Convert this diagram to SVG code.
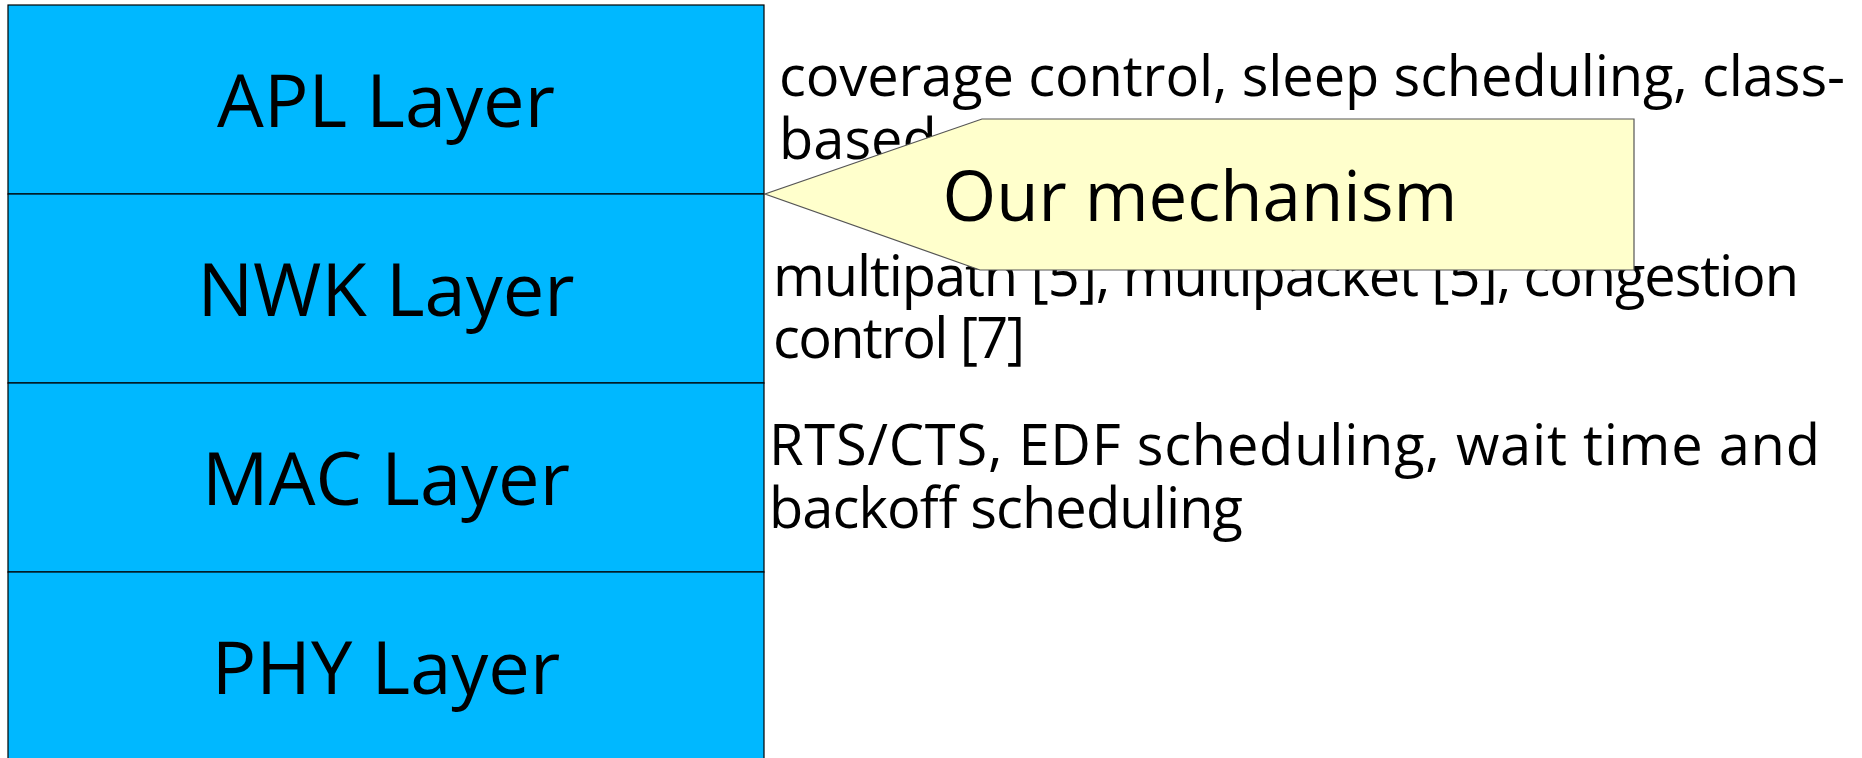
<svg xmlns="http://www.w3.org/2000/svg" width="1862" height="758" viewBox="0 0 1862 758">
  <style>
    .layer { fill: #00b8ff; stroke: #000000; stroke-width: 1.2; }
    .lt { font-family: "Open Sans", "Noto Sans", "DejaVu Sans", sans-serif; font-size: 74px; fill: #000; text-anchor: middle; }
    .desc { font-family: "Open Sans", "Noto Sans", "DejaVu Sans", sans-serif; font-size: 56px; fill: #000; }
    .callout { fill: #ffffcc; stroke: #555555; stroke-width: 1.2; }
    .ct { font-family: "Open Sans", "Noto Sans", "DejaVu Sans", sans-serif; font-size: 69px; fill: #000; text-anchor: middle; }
  </style>
  <rect x="0" y="0" width="1862" height="758" fill="#ffffff"/>
  <g id="apl">
    <rect class="layer" x="8" y="5" width="756" height="189"/>
    <text class="lt" x="386" y="127">APL Layer</text>
  </g>
  <g id="nwk">
    <rect class="layer" x="8" y="194" width="756" height="189"/>
    <text class="lt" x="386" y="316">NWK Layer</text>
  </g>
  <g id="mac">
    <rect class="layer" x="8" y="383" width="756" height="189"/>
    <text class="lt" x="386" y="505">MAC Layer</text>
  </g>
  <g id="phy">
    <rect class="layer" x="8" y="572" width="756" height="200"/>
    <text class="lt" x="386" y="694">PHY Layer</text>
  </g>
  <g id="apl-desc">
    <text class="desc" x="779" y="96" textLength="1066" lengthAdjust="spacing">coverage control, sleep scheduling, class-</text>
    <text class="desc" x="779" y="159">based</text>
  </g>
  <g id="nwk-desc">
    <text class="desc" x="773" y="296" textLength="1026" lengthAdjust="spacing">multipath [5], multipacket [5], congestion</text>
    <text class="desc" x="773" y="358" textLength="252" lengthAdjust="spacing">control [7]</text>
  </g>
  <g id="mac-desc">
    <text class="desc" x="769" y="465" textLength="1051" lengthAdjust="spacing">RTS/CTS, EDF scheduling, wait time and</text>
    <text class="desc" x="769" y="528" textLength="474" lengthAdjust="spacing">backoff scheduling</text>
  </g>
  <g id="connectors"></g>
  <g id="our-mechanism">
    <polygon class="callout" points="982,119 1634,119 1634,270 980,270 765,194"/>
    <text class="ct" x="1200" y="221">Our mechanism</text>
  </g>
</svg>
